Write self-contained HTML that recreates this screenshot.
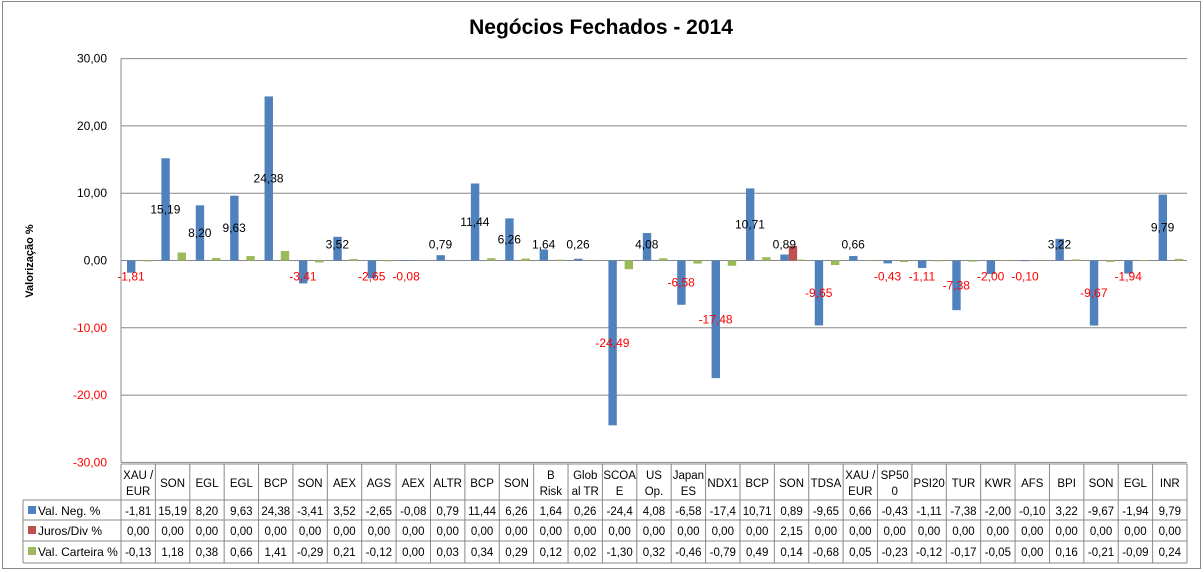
<!DOCTYPE html><html><head><meta charset="utf-8"><style>body{margin:0;background:#fff}svg{display:block;font-family:"Liberation Sans",sans-serif}</style></head><body>
<svg id="s" width="1204" height="572" xmlns="http://www.w3.org/2000/svg"></svg>
<script>
const cats=[["XAU /","EUR"],["SON"],["EGL"],["EGL"],["BCP"],["SON"],["AEX"],["AGS"],["AEX"],["ALTR"],["BCP"],["SON"],["B","Risk"],["Glob","al TR"],["SCOA","E"],["US","Op."],["Japan","ES"],["NDX1"],["BCP"],["SON"],["TDSA"],["XAU /","EUR"],["SP50","0"],["PSI20"],["TUR"],["KWR"],["AFS"],["BPI"],["SON"],["EGL"],["INR"]];
const b=[-1.81,15.19,8.20,9.63,24.38,-3.41,3.52,-2.65,-0.08,0.79,11.44,6.26,1.64,0.26,-24.49,4.08,-6.58,-17.48,10.71,0.89,-9.65,0.66,-0.43,-1.11,-7.38,-2.00,-0.10,3.22,-9.67,-1.94,9.79];
const r=b.map((v,i)=>i==19?2.15:0);
const g=[-0.13,1.18,0.38,0.66,1.41,-0.29,0.21,-0.12,0.00,0.03,0.34,0.29,0.12,0.02,-1.30,0.32,-0.46,-0.79,0.49,0.14,-0.68,0.05,-0.23,-0.12,-0.17,-0.05,0.00,0.16,-0.21,-0.09,0.24];
const f=v=>v.toFixed(2).replace('.',',');
const L=121,R=1187,W=(R-L)/31,Y0=260.5,S=6.73;
let h='<rect x="2.5" y="1.5" width="1198" height="567" fill="#fff" stroke="#888"/>';
h+='<text x="601" y="34" font-size="21" font-weight="bold" text-anchor="middle">Negócios Fechados - 2014</text>';
h+='<text transform="translate(33,261) rotate(-90)" font-size="11" font-weight="bold" text-anchor="middle">Valorização %</text>';
for(let k=-3;k<=3;k++){const y=Y0-k*10*S;
 h+=`<line x1="${L}" x2="${R}" y1="${y}" y2="${y}" stroke="#888"/>`;
 h+=`<text x="107" y="${y+4}" font-size="12" text-anchor="end" fill="${k<0?'#f00':'#000'}">${f(k*10)}</text>`;}
h+=`<line x1="${L}" x2="${L}" y1="${Y0-30*S}" y2="${Y0+30*S}" stroke="#888"/>`;
function bar(x,v,c){const y=v>=0?Y0-v*S:Y0;const hh=Math.abs(v)*S;if(hh>0)h+=`<rect x="${x}" y="${y}" width="8.4" height="${hh}" fill="${c}"/>`;}
for(let i=0;i<31;i++){const x=L+i*W;
 bar(x+6,b[i],'#4f81bd');bar(x+14.4,r[i],'#c0504d');bar(x+22.2,g[i],'#9bbb59');
 let m=-b[i]*S/2;if(Math.abs(m)<16)m=b[i]>=0?-16:16;
 h+=`<text x="${x+10}" y="${Y0+m+4}" font-size="12" text-anchor="middle" fill="${b[i]<0?'#f00':'#000'}">${f(b[i])}</text>`;}
const T=464,rows=[500,520,541,563];
h+=`<g stroke="#888" fill="none"><line x1="${L}" x2="${R}" y1="${T}" y2="${T}"/>`;
rows.forEach(y=>h+=`<line x1="23" x2="${R}" y1="${y}" y2="${y}"/>`);
h+=`<line x1="23" x2="23" y1="500" y2="563"/>`;
for(let i=0;i<=31;i++)h+=`<line x1="${L+i*W}" x2="${L+i*W}" y1="${T}" y2="563"/>`;
h+='</g>';
const bt=b.map(f);bt[14]="-24,4";bt[17]="-17,4";
for(let i=0;i<31;i++){const cx=L+i*W+W/2;const c=cats[i];
 if(c.length==1)h+=`<text x="${cx}" y="487" font-size="11.5" text-anchor="middle">${c[0]}</text>`;
 else{h+=`<text x="${cx}" y="479" font-size="11.5" text-anchor="middle">${c[0]}</text><text x="${cx}" y="495" font-size="11.5" text-anchor="middle">${c[1]}</text>`;}
 [bt[i],f(r[i]),f(g[i])].forEach((t,j)=>h+=`<text x="${cx}" y="${rows[j]+15}" font-size="11.5" text-anchor="middle">${t}</text>`);}
[["Val. Neg. %","#4f81bd"],["Juros/Div %","#c0504d"],["Val. Carteira %","#9bbb59"]].forEach((l,j)=>{const y=rows[j];
 h+=`<rect x="28" y="${y+6}" width="8" height="8" fill="${l[1]}"/><text x="38" y="${y+15}" font-size="12">${l[0]}</text>`;});
document.getElementById('s').innerHTML=h;
</script></body></html>
